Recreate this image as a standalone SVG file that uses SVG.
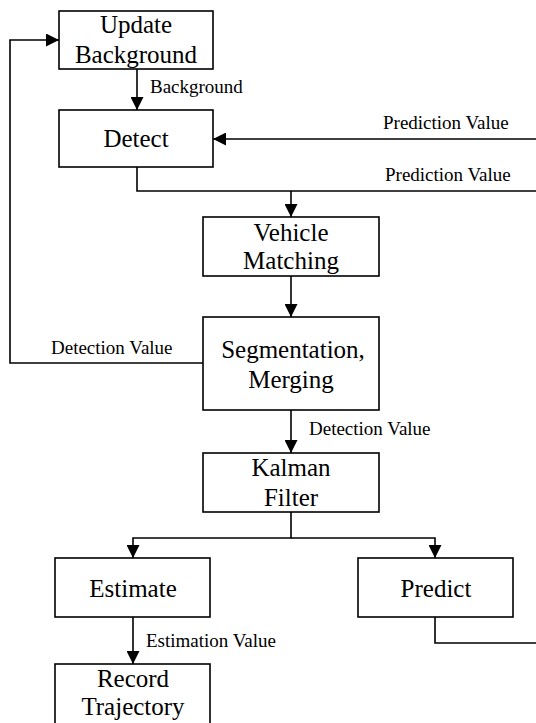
<svg xmlns="http://www.w3.org/2000/svg" width="536" height="723" viewBox="0 0 536 723">
<style>
.box{fill:#fff;stroke:#000;stroke-width:1.6}
.t{font-size:25px;text-anchor:middle;fill:#000}
.l{font-size:19px;fill:#000}
.c{fill:none;stroke:#000;stroke-width:1.6}
</style>
<defs>
<marker id="ah" markerUnits="userSpaceOnUse" markerWidth="13" markerHeight="13" refX="13" refY="6.5" orient="auto">
<path d="M0,0 L13,6.5 L0,13 z" fill="#000"/>
</marker>
</defs>
<rect width="536" height="723" fill="#fff"/>
<g id="connectors">
<path class="c" d="M137,69 V110" marker-end="url(#ah)"/>
<path class="c" d="M536,139 H213" marker-end="url(#ah)"/>
<path class="c" d="M137,167 V191 H536"/>
<path class="c" d="M291,191 V217" marker-end="url(#ah)"/>
<path class="c" d="M291,276 V317" marker-end="url(#ah)"/>
<path class="c" d="M203,363 H10 V40 H59" marker-end="url(#ah)"/>
<path class="c" d="M291,410 V453" marker-end="url(#ah)"/>
<path class="c" d="M291,512 V538 H133 V558" marker-end="url(#ah)"/>
<path class="c" d="M291,538 H435 V558" marker-end="url(#ah)"/>
<path class="c" d="M435,617 V643 H536"/>
<path class="c" d="M133,617 V664" marker-end="url(#ah)"/>
<g font-family="Liberation Serif, DejaVu Serif, serif">
<text class="l" x="150" y="93">Background</text>
<text class="l" x="383" y="129">Prediction Value</text>
<text class="l" x="385" y="181">Prediction Value</text>
<text class="l" x="51" y="354">Detection Value</text>
<text class="l" x="309" y="435">Detection Value</text>
<text class="l" x="146" y="647">Estimation Value</text>
</g>
</g>
<g font-family="Liberation Serif, DejaVu Serif, serif">
<g id="update">
<rect class="box" x="59" y="11" width="154" height="58"/>
<text class="t" x="136" y="33">Update</text>
<text class="t" x="136" y="63">Background</text>
</g>
<g id="detect">
<rect class="box" x="59" y="110" width="154" height="57"/>
<text class="t" x="136" y="147">Detect</text>
</g>
<g id="vehicle">
<rect class="box" x="203" y="217" width="176" height="59"/>
<text class="t" x="291" y="241">Vehicle</text>
<text class="t" x="291" y="269">Matching</text>
</g>
<g id="segmentation">
<rect class="box" x="203" y="317" width="176" height="93"/>
<text class="t" x="293" y="358">Segmentation,</text>
<text class="t" x="291" y="388">Merging</text>
</g>
<g id="kalman">
<rect class="box" x="203" y="453" width="176" height="59"/>
<text class="t" x="291" y="476">Kalman</text>
<text class="t" x="291" y="506">Filter</text>
</g>
<g id="estimate">
<rect class="box" x="55" y="558" width="155" height="59"/>
<text class="t" x="133" y="597">Estimate</text>
</g>
<g id="predict">
<rect class="box" x="358" y="558" width="155" height="59"/>
<text class="t" x="436" y="597">Predict</text>
</g>
<g id="record">
<rect class="box" x="55" y="664" width="155" height="70"/>
<text class="t" x="133" y="687">Record</text>
<text class="t" x="133" y="715">Trajectory</text>
</g>
</g>
</svg>
